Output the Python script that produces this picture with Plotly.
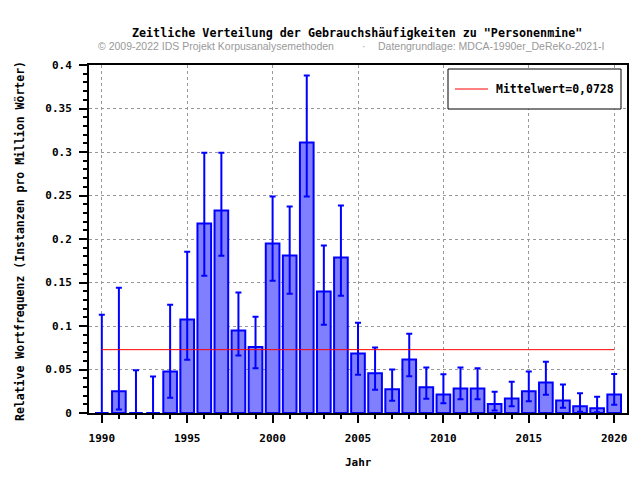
import plotly.graph_objects as go

years = list(range(1990, 2021))
values = [0.0, 0.0249, 0.0, 0.0, 0.0478, 0.1076, 0.2178, 0.2327, 0.0949, 0.0758,
          0.1948, 0.1810, 0.3108, 0.1397, 0.1788, 0.0685, 0.0456, 0.0272, 0.0616, 0.0295,
          0.0214, 0.0283, 0.0283, 0.0103, 0.0168, 0.0249, 0.0352, 0.0145, 0.0077, 0.0054,
          0.0214]
upper = [0.113, 0.144, 0.049, 0.042, 0.1244, 0.1853, 0.299, 0.299, 0.1386, 0.1106,
         0.2488, 0.2373, 0.3878, 0.1925, 0.2385, 0.1037, 0.0754, 0.0501, 0.0911, 0.0524,
         0.0444, 0.0524, 0.0513, 0.0245, 0.036, 0.0478, 0.059, 0.0329, 0.0226, 0.0188,
         0.0448]
lower = [0.0, 0.004, 0.0, 0.0, 0.0176, 0.0612, 0.1577, 0.1807, 0.0662, 0.0513,
         0.152, 0.137, 0.2488, 0.1014, 0.1347, 0.044, 0.0268, 0.0142, 0.0421, 0.0165,
         0.0111, 0.0157, 0.0157, 0.003, 0.0077, 0.0134, 0.021, 0.006, 0.0015, 0.0008,
         0.0096]
mean_value = 0.0728
mean_label = "Mittelwert=0,0728"

title_text = 'Zeitliche Verteilung der Gebrauchshäufigkeiten zu "Personenmine"'
sub_left = "© 2009-2022 IDS Projekt Korpusanalysemethoden"
sub_mid = "·"
sub_right = "Datengrundlage: MDCA-1990er_DeReKo-2021-I"
x_title = "Jahr"
y_title = "Relative Wortfrequenz (Instanzen pro Million Wörter)"

MONO = "DejaVu Sans Mono"

err_plus = [u - v for u, v in zip(upper, values)]
err_minus = [v - l for v, l in zip(values, lower)]

fig = go.Figure()
fig.add_trace(go.Bar(
    x=years, y=values, width=0.8,
    marker=dict(color="#8080FF", line=dict(color="#0000FF", width=2)),
    error_y=dict(type="data", symmetric=False, array=err_plus, arrayminus=err_minus,
                 color="#0000FF", thickness=2, width=3),
    showlegend=False,
))
fig.add_trace(go.Scatter(
    x=[years[0], years[-1]], y=[mean_value, mean_value], mode="lines",
    line=dict(color="#FF0000", width=1), name=mean_label, showlegend=False,
))

# page has an 8px body margin: screen coords = figure coords + 8
OFF = 8
W, H = 640, 480
L = 89 - OFF
T = 65 - OFF
R = W - (627 - OFF)
B = H - (413 - OFF)
pw = W - L - R
ph = H - T - B

def px(x):
    return (x - OFF - L) / pw

def py(y):
    return 1 - (y - OFF - T) / ph

sub_font = dict(family="Liberation Sans", size=10.5, color="#999999")
bold_mono = dict(family=MONO, size=11.5, color="black", weight="bold")

fig.update_layout(
    width=W, height=H,
    margin=dict(l=L, r=R, t=T, b=B, autoexpand=False),
    paper_bgcolor="white", plot_bgcolor="white",
    showlegend=False,
    font=dict(family=MONO, size=11, color="black"),
    shapes=[
        dict(type="rect", xref="paper", yref="paper",
             x0=px(448), x1=px(621), y0=py(109), y1=py(69),
             line=dict(color="black", width=1), fillcolor="white", layer="above"),
        dict(type="line", xref="paper", yref="paper",
             x0=px(455), x1=px(488), y0=py(89), y1=py(89),
             line=dict(color="#FF0000", width=1), layer="above"),
    ],
    annotations=[
        dict(text=title_text, x=px(357), y=py(33), xref="paper", yref="paper",
             showarrow=False, xanchor="center", yanchor="middle",
             font=dict(family=MONO, size=11.7, color="black", weight="bold")),
        dict(text=sub_left, x=px(96), y=py(46), xref="paper", yref="paper",
             showarrow=False, xanchor="left", yanchor="middle", font=sub_font),
        dict(text=sub_mid, x=px(364), y=py(46), xref="paper", yref="paper",
             showarrow=False, xanchor="center", yanchor="middle", font=sub_font),
        dict(text=sub_right, x=px(376), y=py(46), xref="paper", yref="paper",
             showarrow=False, xanchor="left", yanchor="middle", font=sub_font),
        dict(text=mean_label, x=px(494), y=py(89), xref="paper", yref="paper",
             showarrow=False, xanchor="left", yanchor="middle", font=bold_mono),
        dict(text=x_title, x=px(358), y=py(462), xref="paper", yref="paper",
             showarrow=False, xanchor="center", yanchor="middle",
             font=dict(family=MONO, size=11, color="black", weight="bold")),
        dict(text=y_title, x=px(20), y=py(241), xref="paper", yref="paper",
             showarrow=False, xanchor="center", yanchor="middle", textangle=-90,
             font=bold_mono),
    ],
)

fig.update_xaxes(
    range=[1989.25, 2020.75], tickmode="linear", tick0=1990, dtick=5,
    ticks="outside", ticklen=8, tickwidth=2, tickcolor="black",
    ticklabelstandoff=6, automargin=False,
    minor=dict(dtick=1, tick0=1990, ticks="outside", ticklen=4, tickwidth=2,
               tickcolor="black", showgrid=False),
    showline=True, linecolor="black", linewidth=2, mirror=True,
    showgrid=True, gridcolor="#999999", griddash="dot", gridwidth=1,
    tickfont=dict(family=MONO, size=11, color="black", weight="bold"),
    zeroline=False,
)
fig.update_yaxes(
    range=[0, 0.4], tickmode="linear", tick0=0, dtick=0.05,
    ticks="outside", ticklen=8, tickwidth=2, tickcolor="black",
    ticklabelstandoff=5, automargin=False,
    minor=dict(dtick=0.01, tick0=0, ticks="outside", ticklen=4, tickwidth=2,
               tickcolor="black", showgrid=False),
    showline=True, linecolor="black", linewidth=2, mirror=True,
    showgrid=True, gridcolor="#999999", griddash="dot", gridwidth=1,
    tickfont=dict(family=MONO, size=11, color="black", weight="bold"),
    zeroline=False,
)

fig.write_html("out.html")
